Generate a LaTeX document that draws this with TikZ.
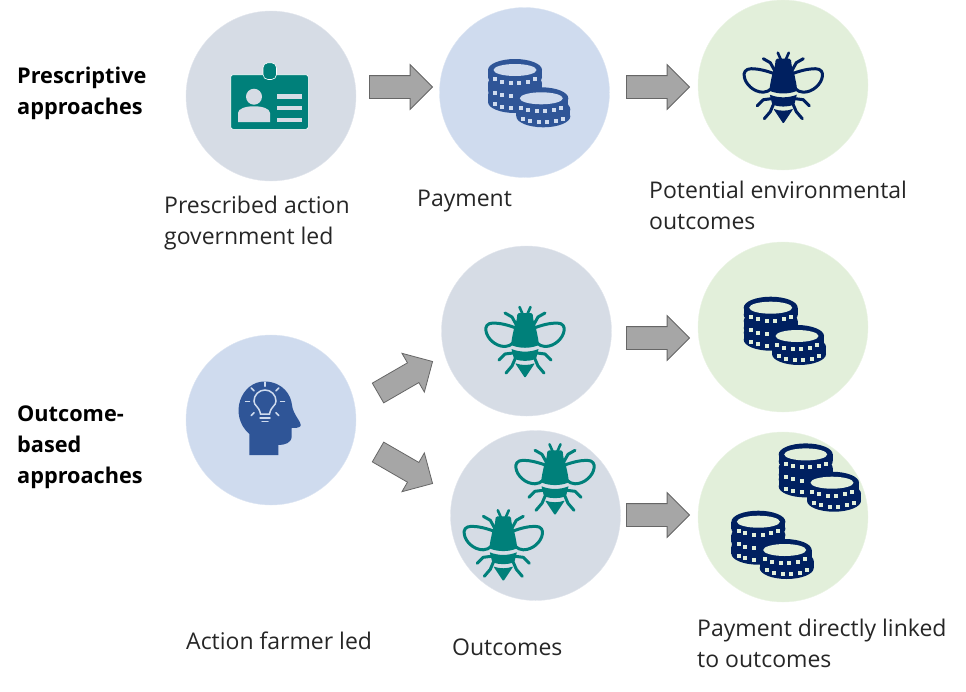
\documentclass[tikz,border=0pt]{standalone}
\usepackage{xcolor}
\usepackage{fontspec}
\setmainfont{Open Sans}
\usetikzlibrary{calc, positioning, shapes.arrows}

\definecolor{greyC}{HTML}{D6DCE5}
\definecolor{blueC}{HTML}{CFDBEE}
\definecolor{greenC}{HTML}{E2EFDA}
\definecolor{tealI}{HTML}{00807A}
\definecolor{blueI}{HTML}{2F5597}
\definecolor{navyI}{HTML}{002060}
\definecolor{txt}{HTML}{262626}

% one coin of a pile: x, y, colour, colour behind
\newcommand{\coinpiece}[4]{
  \begin{scope}[shift={(#1,#2)}]
    \fill[#3] (0,0) ellipse [x radius=27, y radius=11];
    \fill[#3] (-27,0) rectangle (27,7);
    \fill[#3] (0,7) ellipse [x radius=27, y radius=11];
    \foreach \a in {-56,-33,-10,10,33,56}
      \fill[#4] ({24*sin(\a)-2},{5+8*cos(\a)-2}) rectangle ++(4,4);
  \end{scope}
}
\newcommand{\coinhole}[3]{
  \fill[#3] (#1,#2) ellipse [x radius=21.5, y radius=6];
}

\tikzset{
  pics/bee/.style={code={
    \fill[#1, rounded corners=1.5pt] (-7.5,-28) -- (7.5,-28) -- (8.5,-20) -- (10.5,-15) -- (13,-3) -- (14,4)
        .. controls (5,7.5) and (-5,7.5) .. (-14,4) -- (-13,-3) -- (-10.5,-15) -- (-8.5,-20) -- cycle;
    \fill[#1] (-13.5,8) .. controls (-5,11.5) and (5,11.5) .. (13.5,8) -- (11,18)
        .. controls (4,20.5) and (-4,20.5) .. (-11,18) -- cycle;
    \fill[#1, rounded corners=1pt] (-10,22) .. controls (-4,24.5) and (4,24.5) .. (10,22) -- (0,37) -- cycle;
    \foreach \s in {1,-1} {
      \begin{scope}[xscale=\s, draw=#1, line width=3pt, line cap=round, line join=round]
        \draw (-9,-13) .. controls (-17,-16) and (-25,-18) .. (-32,-18)
              .. controls (-38,-18) and (-40,-14) .. (-39,-10)
              .. controls (-38,-3) and (-30,5.5) .. (-20,5.5)
              .. controls (-17,5.5) and (-14,4) .. (-12,2);
        \draw[line width=2.6pt] (-2,-26) -- (-5.5,-34);
        \draw (-8,-15) -- (-13,-24) -- (-20,-28);
        \draw (-12,12) -- (-20,13) -- (-26,19);
        \draw (-10,18) -- (-13,25) -- (-19,32);
      \end{scope}
    }
  }},
  pics/coins/.style 2 args={code={
    \coinpiece{-13.3}{1.7}{#1}{#2}
    \coinpiece{-13.3}{-10}{#1}{#2}
    \coinpiece{-13.3}{-23.3}{#1}{#2}
    \coinhole{-13.3}{-23.3}{#2}
    \coinpiece{15}{16}{#1}{#2}
    \coinpiece{13}{5}{#1}{#2}
    \coinhole{13}{5}{#2}
  }}
}

\begin{document}
\begin{tikzpicture}[x=1pt, y=-1pt,
		      SA/.style = {single arrow, draw=gray!80!black, line width=0.8pt, fill=gray!70,
		      minimum height=63pt, minimum width=44pt, single arrow head extend=11pt,
		      inner xsep=0pt, inner ysep=11pt, outer sep=0pt, anchor=tail},
		      DOT/.style = {circle, minimum size=170pt, inner sep=0pt},
		      LB/.style = {anchor=west, align=left, inner sep=0pt, text=txt,
		      font=\fontsize{23}{31}\selectfont},
		      HD/.style = {LB, font=\fontsize{21.7}{31}\selectfont\bfseries, text=black}]
\useasboundingbox (0,0) rectangle (966,691);

   % circles
   \node (act)     [DOT, fill=greyC,  draw=greyC!70!white]  at (271,96)    {};
   \node (pay)     [DOT, fill=blueC,  draw=blueC!70!white]  at (524.5,92.5) {};
   \node (env)     [DOT, fill=greenC, draw=greenC!70!white] at (783,85)    {};
   \node (farmer)  [DOT, fill=blueC,  draw=blueC!70!white]  at (271,420)   {};
   \node (oneout)  [DOT, fill=greyC,  draw=greyC!70!white]  at (526.5,331) {};
   \node (onepay)  [DOT, fill=greenC, draw=greenC!70!white] at (783,327)   {};
   \node (twoout)  [DOT, fill=greyC,  draw=greyC!70!white]  at (535.5,515.5) {};
   \node (twopay)  [DOT, fill=greenC, draw=greenC!70!white] at (783,517)   {};

   % block arrows
   \node (a1) [SA] at (369.5,87) {};
   \node (a2) [SA] at (626.5,87) {};
   \node (a3) [SA, rotate=30]  at (378,393) {};
   \node (a4) [SA, rotate=-30] at (378,452) {};
   \node (a5) [SA] at (626.5,338) {};
   \node (a6) [SA] at (626.5,515) {};

   % badge
   \filldraw[fill=tealI, draw=white, line width=0.6pt, rounded corners=2.5pt]
        (230.7,74.7) rectangle (308.3,129.3);
   \fill[greyC] (261,74.2) arc[start angle=180, end angle=0, x radius=8.5, y radius=-8.5] -- cycle;
   \filldraw[fill=tealI, draw=white, line width=0.6pt, rounded corners=5pt]
        (263,62.7) rectangle (276.5,79.5);
   \fill[greyC] (254,96.7) circle (8);
   \fill[greyC] (238,122) -- (238,113) .. controls (238,104) and (270,104) .. (270,113) -- (270,122) -- cycle;
   \foreach \y in {94.3,106,117.7}
      \fill[greyC] (277.3,\y) rectangle ++(24.4,4.4);

   % head with bulb
   \fill[blueI] (249.3,455) -- (249.3,434)
        .. controls (228,415) and (241,381) .. (265,381.5)
        .. controls (283,382) and (291,395) .. (292,405)
        .. controls (293,415) and (302,422) .. (300.5,426)
        .. controls (299,428) and (295,428) .. (291.7,428) -- (291.7,436)
        .. controls (291.7,443) and (285,445) .. (278.3,445) -- (278.3,455) -- cycle;
   \begin{scope}[draw=blueC, line width=1.5pt, line cap=round]
      \draw (260.5,414) .. controls (259,406) and (254,406) .. (254,401)
            arc[start angle=180, end angle=0, x radius=11, y radius=-11]
            .. controls (276,406) and (271,406) .. (269.5,414) -- cycle;
      \draw (260,418) -- (270,418);
      \draw (262,421.5) -- (268,421.5);
      \foreach \r in {-90,-45,0,-135,180,45,135}
         \draw ($(265,401.7)+(\r:15.5)$) -- ($(265,401.7)+(\r:19.5)$);
   \end{scope}

   % icons
   \pic at (783.3,86.7)  {bee=navyI};
   \pic at (525,341)     {bee=tealI};
   \pic at (555,478.3)   {bee=tealI};
   \pic at (503.3,544.3) {bee=tealI};
   \pic at (528.3,93.3)  {coins={blueI}{blueC}};
   \pic at (784,331)     {coins={navyI}{greenC}};
   \pic at (819,477.7)   {coins={navyI}{greenC}};
   \pic at (771.7,545)   {coins={navyI}{greenC}};

   % labels
   \node (hd1) [HD] at (17,93)  {Prescriptive\\approaches};
   \node (hd2) [HD] at (17,447.5)   {Outcome-\\based\\approaches};
   \node (l1)  [LB] at (164,223) {Prescribed action\\government led};
   \node (l2)  [LB] at (417,201.5)   {Payment};
   \node (l3)  [LB] at (649,205.5) {Potential environmental\\outcomes};
   \node (l4)  [LB] at (186,641)   {Action farmer led};
   \node (l5)  [LB] at (452,647)   {Outcomes};
   \node (l6)  [LB] at (697,643.5) {Payment directly linked\\to outcomes};
\end{tikzpicture}
\end{document}
